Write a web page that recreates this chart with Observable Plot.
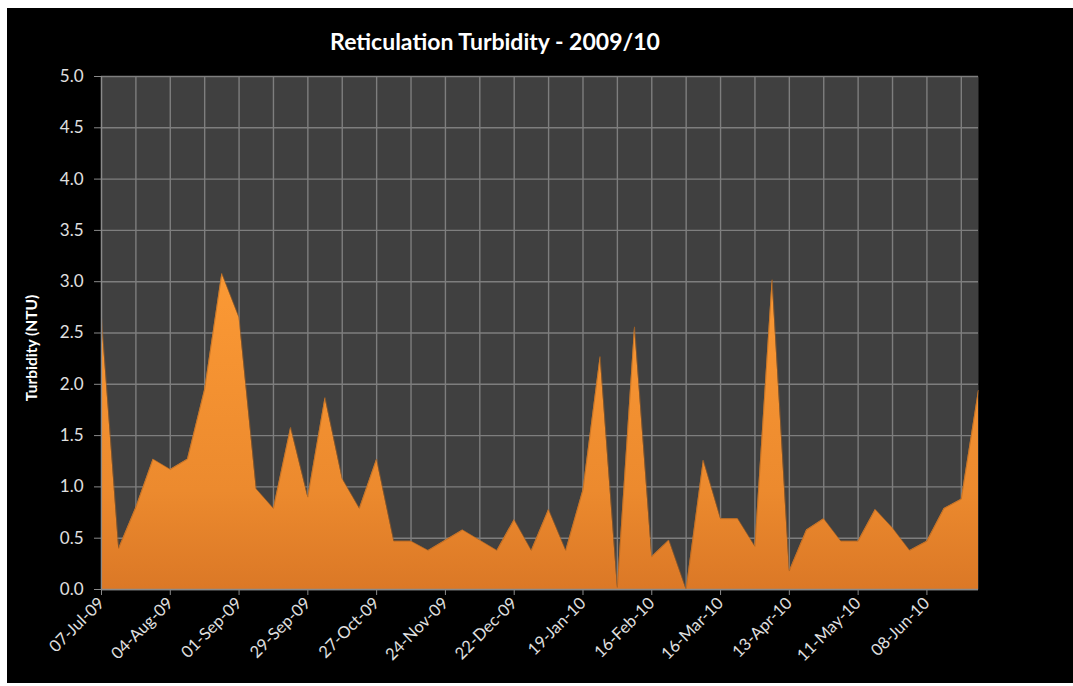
<!DOCTYPE html>
<html>
<head>
<meta charset="utf-8">
<script src="https://cdn.jsdelivr.net/npm/d3@7"></script>
<script src="https://cdn.jsdelivr.net/npm/@observablehq/plot@0.6"></script>
<style>
  html, body { margin: 0; padding: 0; background: #ffffff; }
  #frame { position: absolute; left: 7px; top: 8px; width: 1066px; height: 675px; background: #000000; overflow: hidden; }
  #title { position: absolute; left: 0; top: 20px; width: 976px; text-align: center; color: #ffffff;
           font-family: Lato, "Open Sans", sans-serif; font-weight: bold; font-size: 23px; line-height: 26px; }
  #ylabel { position: absolute; left: 24px; top: 340px; width: 0; height: 0; }
  #ylabel span { position: absolute; transform: translate(-50%, -50%) rotate(-90deg); white-space: nowrap; color: #ffffff;
                 font-family: Lato, "Open Sans", sans-serif; font-weight: bold; font-size: 15.5px; }
  #chart { position: absolute; left: 0; top: 0; }
  #chart svg g[aria-label="y-axis tick label"] { font-size: 17px; }
  #chart svg g[aria-label="x-axis tick label"] { font-size: 16.5px; }
</style>
</head>
<body>
<div id="frame">
  <div id="chart"></div>
  <div id="title">Reticulation Turbidity - 2009/10</div>
  <div id="ylabel"><span>Turbidity (NTU)</span></div>
</div>
<script>
// Weekly sample dates
const dates = [
  "2009-07-07","2009-07-14","2009-07-21","2009-07-28",
  "2009-08-04","2009-08-11","2009-08-18","2009-08-25",
  "2009-09-01","2009-09-08","2009-09-15","2009-09-22","2009-09-29",
  "2009-10-06","2009-10-13","2009-10-20","2009-10-27",
  "2009-11-03","2009-11-10","2009-11-17","2009-11-24",
  "2009-12-01","2009-12-08","2009-12-15","2009-12-22","2009-12-29",
  "2010-01-05","2010-01-12","2010-01-19","2010-01-26",
  "2010-02-02","2010-02-09","2010-02-16","2010-02-23",
  "2010-03-02","2010-03-09","2010-03-16","2010-03-23","2010-03-30",
  "2010-04-06","2010-04-13","2010-04-20","2010-04-27",
  "2010-05-04","2010-05-11","2010-05-18","2010-05-25",
  "2010-06-01","2010-06-08","2010-06-15","2010-06-22","2010-06-29"
];
// Turbidity (NTU)
const turbidity = [
  2.65, 0.40, 0.80, 1.27,
  1.17, 1.27, 1.95, 3.08,
  2.65, 0.98, 0.79, 1.58, 0.90,
  1.87, 1.08, 0.79, 1.27,
  0.47, 0.47, 0.38, 0.48,
  0.58, 0.48, 0.38, 0.68, 0.38,
  0.78, 0.38, 0.97, 2.27,
  0.02, 2.56, 0.32, 0.48,
  0.00, 1.26, 0.69, 0.69, 0.42,
  3.02, 0.18, 0.58, 0.69,
  0.47, 0.47, 0.78, 0.60,
  0.38, 0.47, 0.79, 0.88, 1.94
];
const xTickDates = ["2009-07-07","2009-08-04","2009-09-01","2009-09-29","2009-10-27","2009-11-24",
  "2009-12-22","2010-01-19","2010-02-16","2010-03-16","2010-04-13","2010-05-11","2010-06-08"];
const xTickLabels = ["07-Jul-09","04-Aug-09","01-Sep-09","29-Sep-09","27-Oct-09","24-Nov-09",
  "22-Dec-09","19-Jan-10","16-Feb-10","16-Mar-10","13-Apr-10","11-May-10","08-Jun-10"];
const yTicks = [0, 0.5, 1.0, 1.5, 2.0, 2.5, 3.0, 3.5, 4.0, 4.5, 5.0];
const yTickLabels = ["0.0","0.5","1.0","1.5","2.0","2.5","3.0","3.5","4.0","4.5","5.0"];

const data = dates.map((d, i) => ({date: new Date(d), value: turbidity[i]}));
const start = new Date(dates[0]);
const end = new Date(dates[dates.length - 1]);
const gridDates = d3.utcDay.range(start, d3.utcDay.offset(end, 1), 14);
const xTicks = xTickDates.map(d => new Date(d));
const xLabelOf = d => xTickLabels[xTicks.findIndex(t => +t === +d)];
const yLabelOf = v => yTickLabels[yTicks.indexOf(v)];

const gridColor = "#7e7e7e";
const chart = Plot.plot({
  width: 1066,
  height: 675,
  marginLeft: 94,
  marginRight: 95,
  marginTop: 68,
  marginBottom: 94,
  style: {background: "transparent", color: "#d9d9d9", fontFamily: "Lato, 'Open Sans', sans-serif", fontSize: "16px", overflow: "visible"},
  x: {type: "utc", domain: [start, end]},
  y: {domain: [0, 5]},
  marks: [
    Plot.frame({fill: "#404040", stroke: null}),
    Plot.gridY(yTicks, {stroke: gridColor, strokeOpacity: 1, strokeWidth: 1.4}),
    Plot.gridX(gridDates, {stroke: gridColor, strokeOpacity: 1, strokeWidth: 1.4}),
    Plot.areaY(data, {x: "date", y: "value", fill: "url(#orangeGrad)"}),
    Plot.lineY(data, {x: "date", y: "value", stroke: "#a9611f", strokeWidth: 0.8, strokeOpacity: 0.7}),
    Plot.ruleY([0], {stroke: "#8a8a8a", strokeWidth: 1.5}),
    Plot.ruleX([start], {stroke: "#8a8a8a", strokeWidth: 1.2}),
    Plot.axisY(yTicks, {tickFormat: yLabelOf, tickSize: 7, tickPadding: 11, stroke: "#8a8a8a", fill: "#e0e0e0", label: null}),
    Plot.axisX(xTicks, {tickFormat: xLabelOf, tickRotate: -45, tickSize: 6, tickPadding: 5, stroke: "#8a8a8a", fill: "#e0e0e0", label: null})
  ]
});

const y = chart.scale("y");
const svg = d3.select(chart);
const defs = svg.insert("defs", ":first-child");
const grad = defs.append("linearGradient")
  .attr("id", "orangeGrad")
  .attr("gradientUnits", "userSpaceOnUse")
  .attr("x1", 0).attr("x2", 0)
  .attr("y1", y.apply(3.2)).attr("y2", y.apply(0));
grad.append("stop").attr("offset", "0%").attr("stop-color", "#fc9a35");
grad.append("stop").attr("offset", "70%").attr("stop-color", "#ec8a2e");
grad.append("stop").attr("offset", "100%").attr("stop-color", "#db7826");

document.getElementById("chart").appendChild(chart);
</script>
</body>
</html>
